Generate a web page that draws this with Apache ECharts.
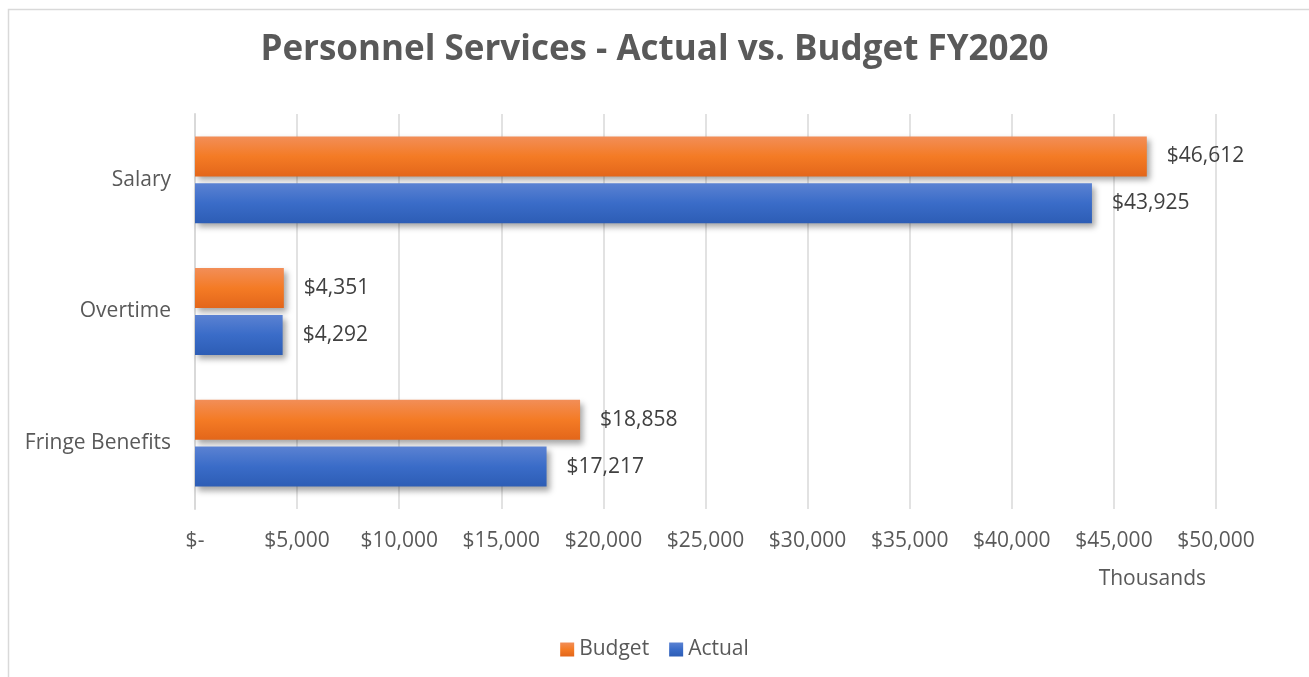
<!DOCTYPE html>
<html>
<head>
<meta charset="utf-8">
<script src="https://cdn.jsdelivr.net/npm/echarts@6/dist/echarts.min.js"></script>
<style>
  html, body { margin: 0; padding: 0; background: #ffffff; }
  #chart { width: 1309px; height: 677px; }
</style>
</head>
<body>
<div id="chart"></div>
<script>
// Data (bottom-to-top order for the category axis)
const categories = ['Fringe Benefits', 'Overtime', 'Salary'];
const budgetValues = [18858, 4351, 46612];
const actualValues = [17217, 4292, 43925];
const seriesNames = ['Budget', 'Actual'];
const titleText = 'Personnel Services - Actual vs. Budget FY2020';
const axisUnitName = 'Thousands';

const FONT = '"Open Sans", "DejaVu Sans", sans-serif';

function money(v) {
  if (v === 0) return '$-';
  return '$' + Math.round(v).toLocaleString('en-US');
}

function grad(c1, c2, c3) {
  return new echarts.graphic.LinearGradient(0, 0, 0, 1, [
    { offset: 0, color: c1 },
    { offset: 0.5, color: c2 },
    { offset: 1, color: c3 }
  ]);
}

const chart = echarts.init(document.getElementById('chart'), null, { renderer: 'canvas' });

const labelStyle = {
  show: true,
  position: 'right',
  distance: 20,
  fontFamily: FONT,
  fontSize: 21,
  color: '#404040',
  formatter: p => money(p.value)
};

const shadow = {
  shadowColor: 'rgba(0,0,0,0.35)',
  shadowBlur: 6,
  shadowOffsetX: 3,
  shadowOffsetY: 4
};

chart.setOption({
  animation: false,
  backgroundColor: '#ffffff',
  graphic: [{
    type: 'rect',
    shape: { x: 8.5, y: 9.5, width: 1320, height: 700 },
    style: { fill: 'none', stroke: '#d9d9d9', lineWidth: 1.5 },
    silent: true,
    z: -10
  }],
  title: {
    text: titleText,
    left: 'center',
    top: 28,
    textStyle: {
      fontFamily: FONT,
      fontSize: 35,
      fontWeight: 'bold',
      color: '#595959'
    }
  },
  legend: {
    data: seriesNames,
    bottom: 12,
    left: 'center',
    itemWidth: 14,
    itemHeight: 14,
    itemGap: 20,
    icon: 'rect',
    textStyle: { fontFamily: FONT, fontSize: 21, color: '#595959' }
  },
  grid: {
    left: 195,
    right: 93,
    top: 114,
    bottom: 168,
    containLabel: false
  },
  xAxis: {
    type: 'value',
    min: 0,
    max: 50000,
    interval: 5000,
    name: axisUnitName,
    nameLocation: 'end',
    nameGap: -10,
    nameTextStyle: {
      fontFamily: FONT,
      fontSize: 21,
      color: '#595959',
      align: 'right',
      verticalAlign: 'top',
      padding: [60, 0, 0, 0]
    },
    axisLine: { show: false },
    axisTick: { show: false },
    axisLabel: {
      margin: 22,
      fontFamily: FONT,
      fontSize: 21,
      color: '#595959',
      formatter: v => money(v)
    },
    splitLine: { show: true, lineStyle: { color: '#d9d9d9', width: 1.5 } }
  },
  yAxis: {
    type: 'category',
    data: categories,
    axisLine: { show: true, lineStyle: { color: '#d9d9d9', width: 2 } },
    axisTick: { show: false },
    axisLabel: {
      margin: 24,
      fontFamily: FONT,
      fontSize: 21,
      color: '#595959'
    }
  },
  series: [
    {
      name: seriesNames[0],
      type: 'bar',
      data: budgetValues,
      barGap: '17%',
      barCategoryGap: '34%',
      itemStyle: Object.assign({ color: grad('#f28e58', '#f47b25', '#e3661a') }, shadow),
      label: labelStyle
    },
    {
      name: seriesNames[1],
      type: 'bar',
      data: actualValues,
      barGap: '17%',
      barCategoryGap: '34%',
      itemStyle: Object.assign({ color: grad('#5b82d2', '#3a6cc8', '#2d5db5') }, shadow),
      label: labelStyle
    }
  ]
});
</script>
</body>
</html>
